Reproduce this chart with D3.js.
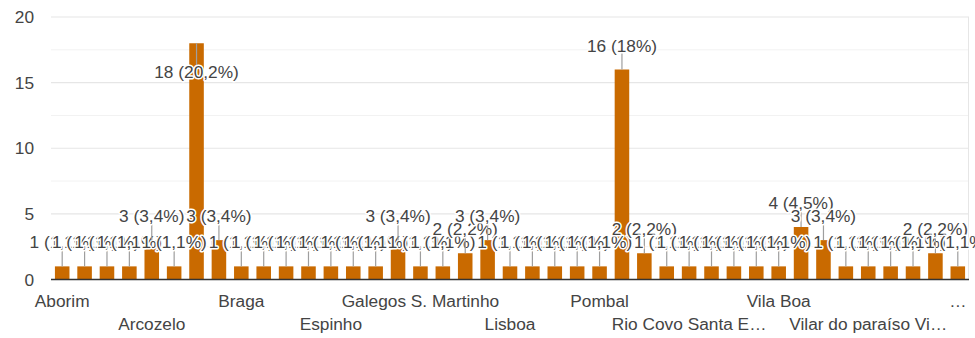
<!DOCTYPE html>
<html>
<head>
<meta charset="utf-8">
<script src="https://cdn.jsdelivr.net/npm/d3@7"></script>
<style>
  body { margin: 0; background: #fff; }
  svg { display: block; font-family: "Liberation Sans", Arial, sans-serif; }
</style>
</head>
<body>
<svg id="chart" width="975" height="338"></svg>
<script>
// Respostas por localidade
const categories = [
  "Aborim", "Adães", "Airó", "Alvelos", "Arcozelo", "Areias", "Barcelos", "Barqueiros",
  "Braga", "Carapeços", "Chorente", "Creixomil", "Espinho", "Esposende", "Fragoso", "Galegos",
  "Galegos S. Martinho", "Gilmonde", "Guimarães", "Lama", "Lisboa", "Macieira", "Manhente", "Martim",
  "Pombal", "Porto", "Póvoa de Varzim", "Remelhe", "Rio Covo Santa Eugénia", "Rio Covo Santa Eulália",
  "Roriz", "Tamel", "Vila Boa", "Vila Cova", "Vila Nova de Famalicão", "Vila Seca",
  "Vilar do paraíso Vila Nova de Gaia", "Vilarinho", "Vilela", "Viseu", "Vizela"
];
const counts = [
  1, 1, 1, 1, 3, 1, 18, 3,
  1, 1, 1, 1, 1, 1, 1, 3,
  1, 1, 2, 3, 1, 1, 1, 1,
  1, 16, 2, 1, 1, 1,
  1, 1, 1, 4, 3, 1,
  1, 1, 1, 2, 1
];
const yTicks = [0, 5, 10, 15, 20];
const yMinorTicks = [2.5, 7.5, 12.5, 17.5];

const W = 975, H = 338;
const plot = { left: 51, right: 969, top: 17, bottom: 279.5 };
const FONT = 17.3;
const FAMILY = '"Liberation Sans", Arial, sans-serif';
const TEXT = "#444";
const BAR = "#c96a00";

const svg = d3.select("#chart");
const total = d3.sum(counts);
const data = categories.map((c, i) => ({ cat: c, value: counts[i], i }));

const x = d3.scaleBand()
  .domain(categories)
  .range([plot.left, plot.right])
  .paddingInner(0.35)
  .paddingOuter(0.175);

const y = d3.scaleLinear().domain([0, 20]).range([plot.bottom, plot.top]);

// gridlines
svg.append("g").selectAll("line").data(yMinorTicks).join("line")
  .attr("x1", plot.left).attr("x2", plot.right)
  .attr("y1", d => y(d)).attr("y2", d => y(d))
  .attr("stroke", "#f2f2f2").attr("stroke-width", 1);
svg.append("g").selectAll("line").data(yTicks.filter(d => d > 0)).join("line")
  .attr("x1", plot.left).attr("x2", plot.right)
  .attr("y1", d => y(d)).attr("y2", d => y(d))
  .attr("stroke", "#e6e6e6").attr("stroke-width", 1.2);
svg.append("line")
  .attr("x1", plot.right - 0.5).attr("x2", plot.right - 0.5)
  .attr("y1", y(20)).attr("y2", plot.bottom)
  .attr("stroke", "#e6e6e6");

// y axis
svg.append("g")
  .attr("transform", `translate(${plot.left},0)`)
  .call(d3.axisLeft(y).tickValues(yTicks).tickSize(0).tickPadding(17))
  .call(g => g.select(".domain").remove())
  .call(g => g.selectAll("text")
    .attr("font-size", FONT)
    .attr("font-family", FAMILY)
    .attr("fill", TEXT));

// bars
svg.append("g").selectAll("rect").data(data).join("rect")
  .attr("x", d => x(d.cat))
  .attr("width", x.bandwidth())
  .attr("y", d => y(d.value))
  .attr("height", d => y(0) - y(d.value))
  .attr("fill", BAR);

// baseline
svg.append("line")
  .attr("x1", plot.left).attr("x2", plot.right)
  .attr("y1", y(0)).attr("y2", y(0))
  .attr("stroke", "#333").attr("stroke-width", 1.6);

// value annotations: "N (P%)" with a leader stem
const fmtPct = v => {
  const p = Math.round(v / total * 1000) / 10;
  return (Number.isInteger(p) ? String(p) : p.toFixed(1).replace(".", ",")) + "%";
};
const ann = svg.append("g");
data.forEach(d => {
  const cx = x(d.cat) + x.bandwidth() / 2;
  const top = y(d.value);
  let cy = top - 24;
  const down = cy - 8 < plot.top;
  if (down) cy = top + 29;
  ann.append("line")
    .attr("x1", cx).attr("x2", cx)
    .attr("y1", top).attr("y2", down ? cy - 7 : cy + 7)
    .attr("stroke", "#9e9e9e").attr("stroke-width", 1.2);
  ann.append("text")
    .attr("x", cx).attr("y", cy).attr("dy", "0.35em")
    .attr("text-anchor", "middle")
    .attr("font-size", FONT)
    .attr("fill", TEXT)
    .attr("stroke", "#fff").attr("stroke-width", 3)
    .attr("stroke-linejoin", "round")
    .attr("paint-order", "stroke")
    .text(`${d.value} (${fmtPct(d.value)})`);
});

// category labels: every 4th, staggered on two rows, truncated to fit
const rowBase = [307, 330];
const GAP = 19;
const measure = svg.append("text").attr("font-size", FONT).attr("visibility", "hidden");
const textWidth = s => { measure.text(s); return measure.node().getComputedTextLength(); };

const shown = data.filter(d => d.i % 4 === 0).map(d => ({
  ...d,
  cx: x(d.cat) + x.bandwidth() / 2,
  row: (d.i / 4) % 2,
  w: textWidth(d.cat)
}));

const room = (me, other) => {
  const dist = Math.abs(me.cx - other.cx);
  const half = other.w / 2;
  return half + GAP <= dist / 2 ? dist - half - GAP : dist / 2 - GAP / 2;
};

[0, 1].forEach(r => {
  const row = shown.filter(d => d.row === r);
  row.forEach((d, k) => {
    const left = k > 0 ? room(d, row[k - 1]) : d.cx - GAP / 2;
    const right = k < row.length - 1 ? room(d, row[k + 1]) : (W - d.cx) - GAP / 2;
    const allowed = 2 * Math.min(left, right);
    let label = d.cat;
    if (d.w > allowed) {
      label = "…";
      for (let n = d.cat.length - 1; n > 0; n--) {
        const t = d.cat.slice(0, n).trimEnd() + "…";
        if (textWidth(t) <= allowed) { label = t; break; }
      }
    }
    d.label = label;
  });
});
measure.remove();

svg.append("g").selectAll("text").data(shown).join("text")
  .attr("x", d => d.cx)
  .attr("y", d => rowBase[d.row])
  .attr("text-anchor", "middle")
  .attr("font-size", FONT)
  .attr("fill", TEXT)
  .text(d => d.label);
</script>
</body>
</html>
